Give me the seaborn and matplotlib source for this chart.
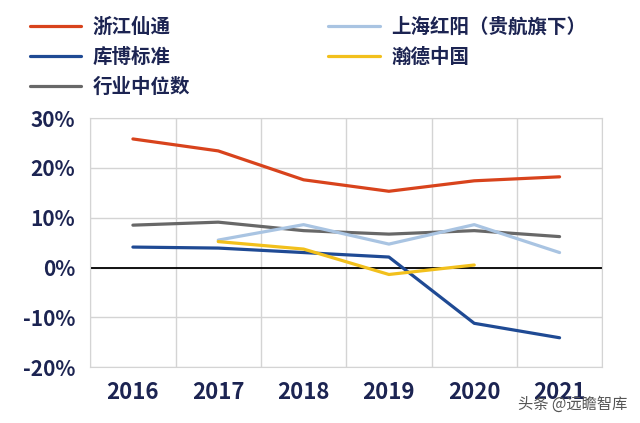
import matplotlib
matplotlib.use("Agg")
import matplotlib.pyplot as plt
import seaborn as sns
import pandas as pd
import numpy as np

# data (net margin %, by year)
years = ["2016", "2017", "2018", "2019", "2020", "2021"]
xiantong = [25.8, 23.4, 17.6, 15.3, 17.4, 18.2]
hongyang = [np.nan, 5.5, 8.6, 4.7, 8.6, 3.0]
kubo = [4.1, 3.9, 3.0, 2.1, -11.2, -14.1]
hande = [np.nan, 5.2, 3.7, -1.4, 0.5, np.nan]
median = [8.5, 9.1, 7.4, 6.7, 7.4, 6.2]

series = ["浙江仙通", "库博标准", "行业中位数", "上海红阳（贵航旗下）", "瀚德中国"]
values = [xiantong, kubo, median, hongyang, hande]
colors = ["#d8431c", "#1f4a94", "#686868", "#a9c4e2", "#f2c01c"]

rows = []
for name, vals in zip(series, values):
    for y, v in zip(years, vals):
        rows.append({"year": y, "value": v, "company": name})
df = pd.DataFrame(rows)

sns.set_style("white")
plt.rcParams["font.family"] = ["Noto Sans CJK SC", "DejaVu Sans"]

navy = "#1c2452"
fig = plt.figure(figsize=(6.4, 4.23), dpi=100)
ax = fig.add_axes([0.141, 0.132, 0.800, 0.589])

sns.lineplot(data=df, x="year", y="value", hue="company", hue_order=series,
             palette=colors, linewidth=2.3, ax=ax, legend=False, sort=False)

ax.set_xlim(-0.5, 5.5)
ax.set_ylim(-20, 30)
ax.set_yticks([-20, -10, 0, 10, 20, 30])
ax.set_yticklabels([f"{t}%" for t in [-20, -10, 0, 10, 20, 30]])
ax.set_xticks(range(len(years)))
ax.set_xticklabels(years)
ax.set_xticks(np.arange(-0.5, 6, 1), minor=True)
ax.grid(True, which="minor", axis="x", color="#d4d4d4", linewidth=1)
ax.grid(True, which="major", axis="y", color="#d4d4d4", linewidth=1)
ax.axhline(0, color="black", linewidth=1.3, zorder=1)
for s in ax.spines.values():
    s.set_color("#d4d4d4")
ax.tick_params(axis="both", which="both", length=0, labelcolor=navy)
ax.tick_params(axis="x", pad=10, labelsize=16)
ax.tick_params(axis="y", pad=11, labelsize=15)
for lab in ax.get_xticklabels() + ax.get_yticklabels():
    lab.set_fontweight("bold")
ax.set_xlabel("")
ax.set_ylabel("")

handles = [plt.Line2D([], [], color=c, linewidth=2.3) for c in colors]
leg = fig.legend(handles, series, loc="upper left", bbox_to_anchor=(0.019, 1.0),
                 ncol=2, frameon=False, handlelength=2.65, handletextpad=0.6,
                 columnspacing=7.1, labelspacing=0.55,
                 prop={"size": 14, "weight": "bold"})
for t in leg.get_texts():
    t.set_color(navy)

fig.text(0.98, 0.025, "头条 @远瞻智库", ha="right", va="bottom",
         fontsize=11, color="#555555")

fig.savefig("out.png", dpi=100)
